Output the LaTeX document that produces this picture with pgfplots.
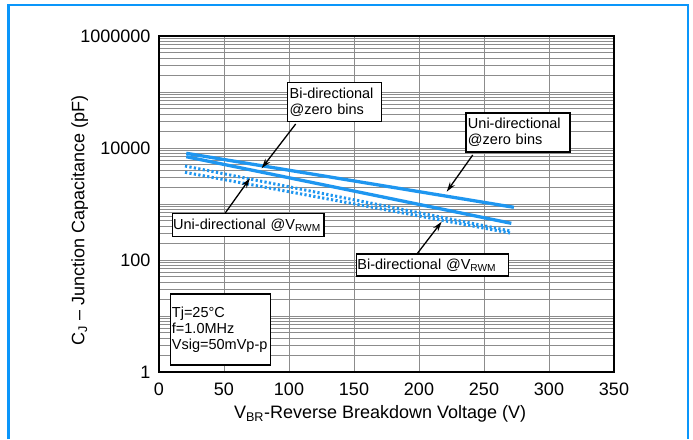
\documentclass[border=0pt]{standalone}
\usepackage{fontspec}
\setmainfont{Liberation Sans}
\usepackage{pgfplots}
\pgfplotsset{compat=1.18}
\usetikzlibrary{arrows.meta}
\definecolor{cblue}{HTML}{1E96F0}
\definecolor{frameblue}{HTML}{0A96FA}
\begin{document}
\begin{tikzpicture}[
  box/.style={draw=black, line width=1.5pt, fill=white, inner xsep=2pt, inner ysep=0pt, align=left, font=\fontsize{14.5}{16}\selectfont},
  arr/.style={black, line width=1.3pt, -{Stealth[length=10pt,width=6pt]}}]
\path[use as bounding box] (0pt,0pt) rectangle (693pt,439pt);
\draw[frameblue, line width=2.2pt] (8.5pt,0pt) -- (8.5pt,434.3pt) -- (688pt,434.3pt) -- (688pt,0pt);
\begin{axis}[
  at={(159pt,67pt)}, anchor=south west,
  scale only axis, width=455pt, height=336pt,
  xmin=0, xmax=350, ymin=1, ymax=1000000, ymode=log,
  xtick={0,50,...,350},
  ytick={1,10,100,1000,10000,100000,1000000},
  yticklabels={1,,100,,10000,,1000000},
  xmajorgrids, ymajorgrids, yminorgrids,
  grid style={black!45, line width=0.9pt},
  minor grid style={black!45, line width=0.9pt},
  major tick length=0pt, minor tick length=0pt,
  axis line style={line width=2pt},
  tick label style={font=\fontsize{18}{20}\selectfont},
  xticklabel style={yshift=-7pt},
  yticklabel style={xshift=-5pt},
  /pgf/number format/assume math mode=true,
  xlabel={V\textsubscript{BR}-Reverse Breakdown Voltage (V)},
  ylabel={C\textsubscript{J} -- Junction Capacitance (pF)},
  label style={font=\fontsize{18}{20}\selectfont},
  xlabel style={at={(axis description cs:0.486,-0.125)}, anchor=center},
  ylabel style={at={(axis description cs:-0.174,0.452)}, anchor=center},
  clip=false,
]
% Uni-directional @ zero bins
\addplot[cblue, line width=3.3pt] coordinates {(21,8040) (273,873)};
% Bi-directional @ zero bins
\addplot[cblue, line width=3.3pt] coordinates {(21,6990) (271,452)};
% Uni-directional @ VRWM
\addplot[cblue, line width=3pt, dash pattern=on 2.2pt off 2.3pt] coordinates {(20,4770) (270,330)};
% Bi-directional @ VRWM
\addplot[cblue, line width=3pt, dash pattern=on 2.2pt off 2.3pt] coordinates {(20,3680) (270,304)};

\node[box, text width=90pt, minimum height=39pt] at (rel axis cs:0.386,0.804) {Bi-directional\\@zero bins};
\node[box, text width=100pt, minimum height=39pt] at (rel axis cs:0.789,0.713) {Uni-directional\\@zero bins};
\node[box, text width=150pt, inner xsep=0.8pt, minimum height=23pt] at (rel axis cs:0.196,0.438) {Uni-directional @V\textsubscript{RWM}};
\node[box, text width=150pt, inner xsep=0.8pt, minimum height=22pt] at (rel axis cs:0.601,0.318) {Bi-directional @V\textsubscript{RWM}};
\node[box, text width=97pt, minimum height=71pt, inner xsep=1.5pt] at (rel axis cs:0.135,0.126) {Tj=25\textdegree C\\f=1.0MHz\\Vsig=50mVp-p};

\draw[arr] (rel axis cs:0.3004,0.7381) -- (rel axis cs:0.2257,0.6063);
\draw[arr] (rel axis cs:0.6895,0.6458) -- (rel axis cs:0.6323,0.5366);
\draw[arr] (rel axis cs:0.1451,0.4723) -- (rel axis cs:0.2,0.5765);
\draw[arr] (rel axis cs:0.5664,0.3503) -- (rel axis cs:0.6213,0.4473);
\end{axis}
\end{tikzpicture}
\end{document}
